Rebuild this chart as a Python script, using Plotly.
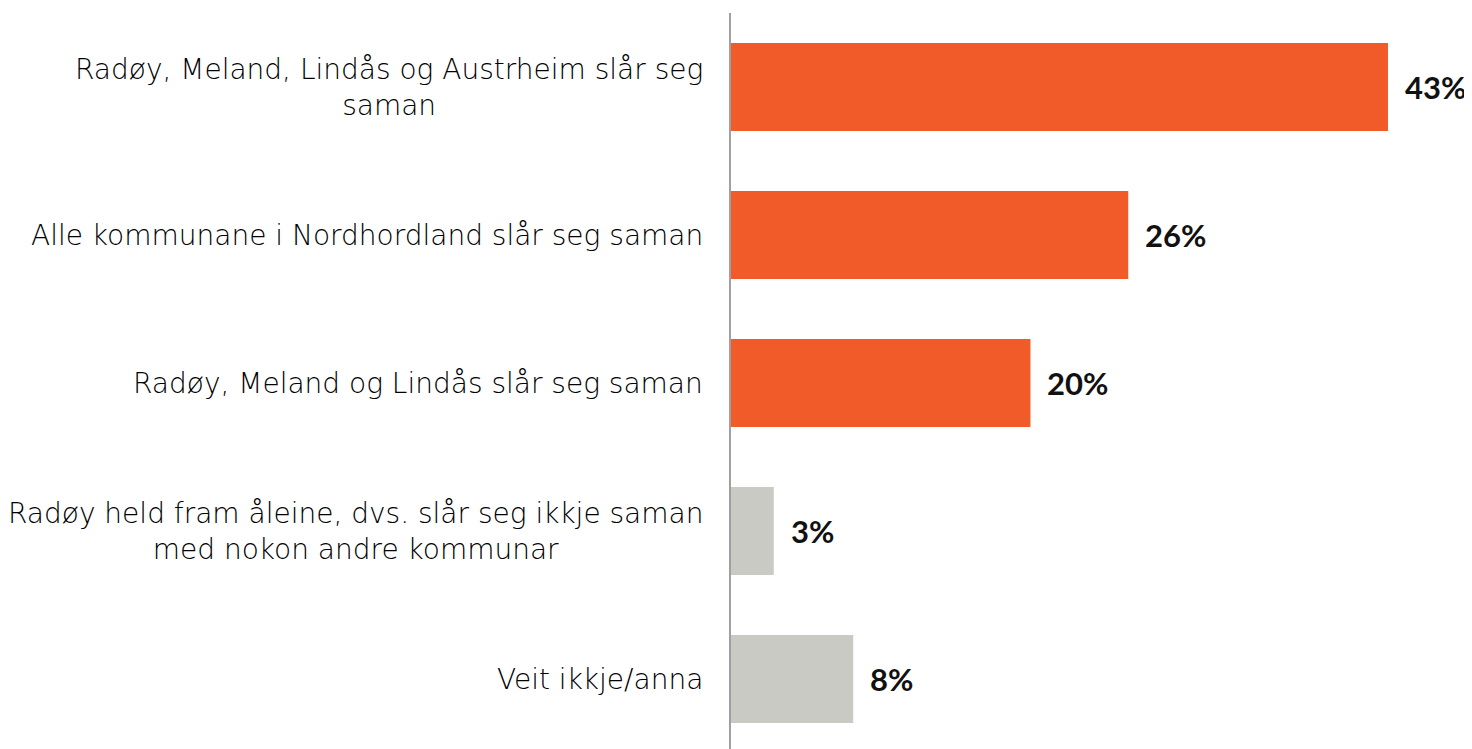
import plotly.graph_objects as go

categories = [
    "Radøy, Meland, Lindås og Austrheim slår seg<br>saman",
    "Alle kommunane i Nordhordland slår seg saman",
    "Radøy, Meland og Lindås slår seg saman",
    "Radøy held fram åleine, dvs. slår seg ikkje saman<br>med nokon andre kommunar",
    "Veit ikkje/anna",
]
values = [43.0, 26.0, 19.6, 2.8, 8.0]
value_labels = ["43%", "26%", "20%", "3%", "8%"]
colors = ["#F15A29", "#F15A29", "#F15A29", "#CACAC5", "#CACAC5"]

idx = list(range(len(categories)))

fig = go.Figure(go.Bar(
    x=values,
    y=idx,
    orientation="h",
    marker=dict(color=colors, line=dict(width=0)),
    hoverinfo="skip",
))

# category labels, centred multi-line, right edge next to the axis
for i, cat in zip(idx, categories):
    fig.add_annotation(
        x=0, xref="x", y=i, yref="y", text=cat,
        xanchor="right", yanchor="middle", align="center", xshift=-26,
        showarrow=False,
        font=dict(family="DejaVu Sans", size=28, weight=200, color="#000000"),
    )

# value labels
for i, v, lab in zip(idx, values, value_labels):
    fig.add_annotation(
        x=v, xref="x", y=i, yref="y", text="<b>" + lab + "</b>",
        xanchor="left", yanchor="middle", xshift=15,
        showarrow=False,
        font=dict(family="Lato", size=31, color="#111111"),
    )

fig.update_layout(
    width=1464, height=741,
    margin=dict(l=723, r=0, t=5, b=0),
    plot_bgcolor="white", paper_bgcolor="white",
    bargap=0.405,
    showlegend=False,
)
fig.update_xaxes(range=[0, 48.5], visible=False)
fig.update_yaxes(
    range=[4.473, -0.5], showticklabels=False, showgrid=False, zeroline=False,
    showline=True, linecolor="#A0A0A0", linewidth=2, ticks="",
)

fig.write_html("out.html")
